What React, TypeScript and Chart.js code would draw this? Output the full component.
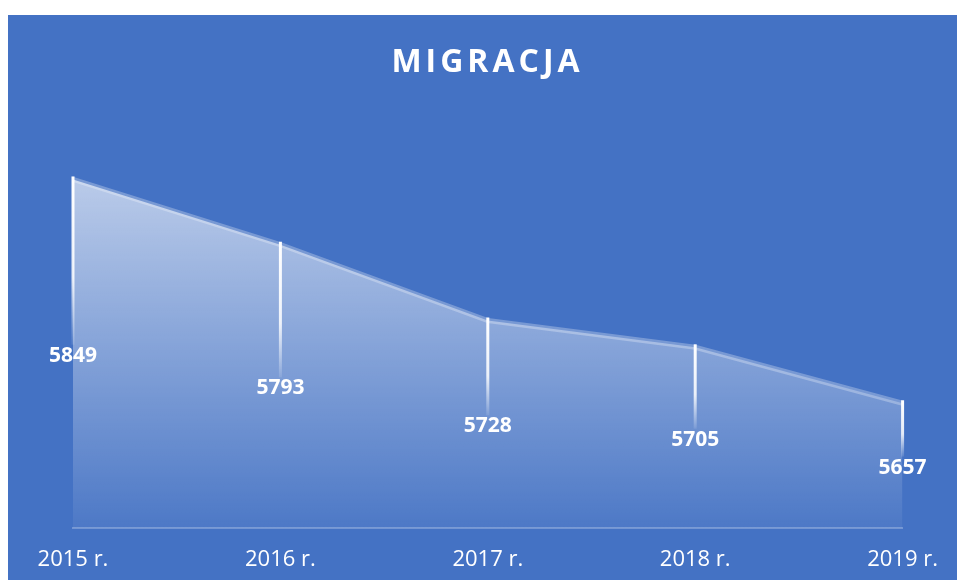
import React, { useEffect, useRef } from "react";
import { Chart, registerables } from "chart.js";

Chart.register(...registerables);

const categories = ["2015 r.", "2016 r.", "2017 r.", "2018 r.", "2019 r."];
const migracja = [5849, 5793, 5728, 5705, 5657];
const titleText = "MIGRACJA";

const BG = "#4472C4";
const FONT = "'Open Sans', 'Noto Sans', sans-serif";

const overlayPlugin = {
  id: "overlay",
  afterDatasetsDraw(chart: any) {
    const { ctx, chartArea } = chart;
    const meta = chart.getDatasetMeta(0);
    const base = chartArea.bottom;
    ctx.save();
    meta.data.forEach((pt: any, i: number) => {
      const x = pt.x;
      const y = pt.y;
      const mid = (y + base) / 2;
      const lineTop = y - 3;
      const lineBottom = mid - 9;
      const g = ctx.createLinearGradient(0, lineTop, 0, lineBottom);
      g.addColorStop(0, "rgba(255,255,255,1)");
      g.addColorStop(0.6, "rgba(255,255,255,0.85)");
      g.addColorStop(1, "rgba(255,255,255,0.1)");
      ctx.strokeStyle = g;
      ctx.lineWidth = 3;
      ctx.beginPath();
      ctx.moveTo(x, lineTop);
      ctx.lineTo(x, lineBottom);
      ctx.stroke();
      ctx.fillStyle = "#ffffff";
      ctx.font = `bold 21px ${FONT}`;
      ctx.textAlign = "center";
      ctx.textBaseline = "middle";
      ctx.fillText(String(migracja[i]), x, mid + 2);
    });
    ctx.restore();
  },
  afterDraw(chart: any) {
    const { ctx, width } = chart;
    ctx.save();
    ctx.fillStyle = "#ffffff";
    ctx.font = `bold 32px ${FONT}`;
    (ctx as any).letterSpacing = "4px";
    ctx.textAlign = "center";
    ctx.textBaseline = "middle";
    ctx.fillText(titleText, width / 2 + 5, 48);
    ctx.restore();
  },
};

export default function App() {
  const ref = useRef<HTMLCanvasElement | null>(null);
  useEffect(() => {
    if (!ref.current) return;
    const chart = new Chart(ref.current, {
      type: "line",
      data: {
        labels: categories,
        datasets: [
          {
            label: "Migracja",
            data: migracja,
            fill: "start",
            tension: 0,
            pointRadius: 0,
            borderWidth: 5,
            borderColor: "rgba(255,255,255,0.28)",
            backgroundColor: (c: any) => {
              const area = c.chart.chartArea;
              if (!area) return "rgba(255,255,255,0.3)";
              const g = c.chart.ctx.createLinearGradient(0, area.top + 60, 0, area.bottom);
              g.addColorStop(0, "rgba(255,255,255,0.63)");
              g.addColorStop(1, "rgba(255,255,255,0.05)");
              return g;
            },
          },
        ],
      },
      options: {
        animation: false,
        responsive: true,
        maintainAspectRatio: false,
        layout: { padding: { top: 105, left: 65, right: 49, bottom: 7 } },
        plugins: {
          legend: { display: false },
          title: { display: false },
          tooltip: { enabled: false },
        },
        scales: {
          x: {
            offset: false,
            grid: { display: false, drawTicks: false },
            border: { display: true, color: "rgba(255,255,255,0.25)", width: 2 },
            ticks: {
              color: "#ffffff",
              font: { family: FONT, size: 22 },
              padding: 19,
              maxRotation: 0,
              autoSkip: false,
            },
            afterFit(scale: any) {
              scale.height = 45;
            },
          },
          y: {
            display: false,
            min: 5550,
            max: 5900,
          },
        },
      },
      plugins: [overlayPlugin],
    });
    return () => chart.destroy();
  }, []);
  return (
    <div style={{ position: "absolute", top: 15, left: 8, width: 949, height: 565, background: BG }}>
      <canvas ref={ref} />
    </div>
  );
}
